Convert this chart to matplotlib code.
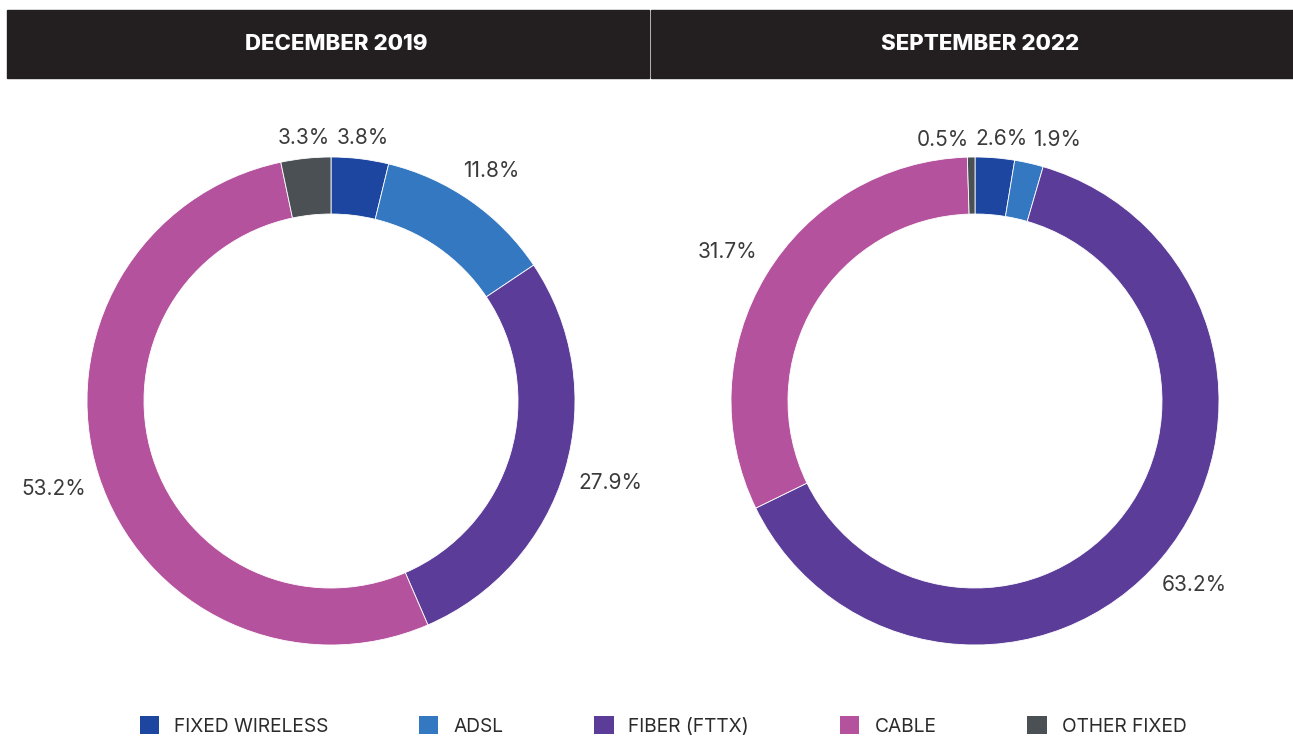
import numpy as np
import matplotlib.pyplot as plt
from matplotlib.patches import Rectangle, Patch

# ---- data ----
categories = ["FIXED WIRELESS", "ADSL", "FIBER (FTTX)", "CABLE", "OTHER FIXED"]
colors = ["#1c46a0", "#3478c2", "#5b3d99", "#b5529d", "#4a5054"]
dec_2019 = [3.8, 11.8, 27.9, 53.2, 3.3]
sep_2022 = [2.6, 1.9, 63.2, 31.7, 0.5]
titles = ["DECEMBER 2019", "SEPTEMBER 2022"]

W, H = 1293, 737
fig = plt.figure(figsize=(W / 100, H / 100), dpi=100)
fig.patch.set_facecolor("white")

R = 244
centers = [(331, 401), (975, 401)]

# header bars
hdr_bg = "#231f20"
for (x0, x1), title, (cx, _) in zip([(7, 649), (651, 1293)], titles, centers):
    fig.patches.append(Rectangle((x0 / W, 1 - 78 / H), (x1 - x0) / W, 68 / H,
                                 transform=fig.transFigure, color=hdr_bg, zorder=0))
    fig.text((cx + 5) / W, 1 - 44 / H, title, color="white", fontsize=16,
             family="Inter", fontweight="heavy", ha="center", va="center")

renderer = fig.canvas.get_renderer()


def spread_labels(ax, texts, gap=6):
    # push apart labels whose boxes overlap, horizontally, in pixels
    for _ in range(50):
        moved = False
        boxes = [t.get_window_extent(renderer) for t in texts]
        order = sorted(range(len(texts)), key=lambda i: boxes[i].x0)
        for a, b in zip(order[:-1], order[1:]):
            ba, bb = boxes[a], boxes[b]
            if ba.y1 < bb.y0 or bb.y1 < ba.y0:
                continue
            over = ba.x1 + gap - bb.x0
            if over > 0:
                for i, d in ((a, -over / 2), (b, over / 2)):
                    px, py = ax.transData.transform(texts[i].get_position())
                    texts[i].set_position(ax.transData.inverted().transform((px + d, py)))
                moved = True
                boxes = [t.get_window_extent(renderer) for t in texts]
        if not moved:
            break


# donuts
for (cx, cy), vals in zip(centers, [dec_2019, sep_2022]):
    ax = fig.add_axes([(cx - R) / W, (H - cy - R) / H, 2 * R / W, 2 * R / H])
    ax.pie(vals, colors=colors, startangle=90, counterclock=False, radius=1,
           wedgeprops=dict(width=57 / R, edgecolor="white", linewidth=0.6))
    ax.set_xlim(-1, 1)
    ax.set_ylim(-1, 1)
    ax.axis("off")
    # value labels just outside the ring, centred on each slice's mid angle
    v = np.array(vals, dtype=float)
    cum = np.cumsum(v) - v / 2
    ang = np.deg2rad(90 - cum / v.sum() * 360)
    texts = []
    for a, val in zip(ang, vals):
        lab = f"{val:.1f}%"
        r = 1.05 + 0.029 * len(lab) * abs(np.cos(a)) + 0.02 * abs(np.sin(a))
        texts.append(ax.text(r * np.cos(a), r * np.sin(a), lab, ha="center", va="center",
                             fontsize=15, family="Inter", color="#3a3a3a"))
    spread_labels(ax, texts)

# legend
handles = [Patch(facecolor=c, edgecolor="none") for c in colors]
fig.legend(handles, categories, loc="center", bbox_to_anchor=(663 / W, 1 - 726 / H),
           ncol=5, frameon=False, prop=dict(family="Inter", size=13.8),
           handlelength=1.0, handleheight=1.0, handletextpad=0.78,
           columnspacing=4.75, labelcolor="#2b2b2b")

fig.savefig("out.png", dpi=100)
